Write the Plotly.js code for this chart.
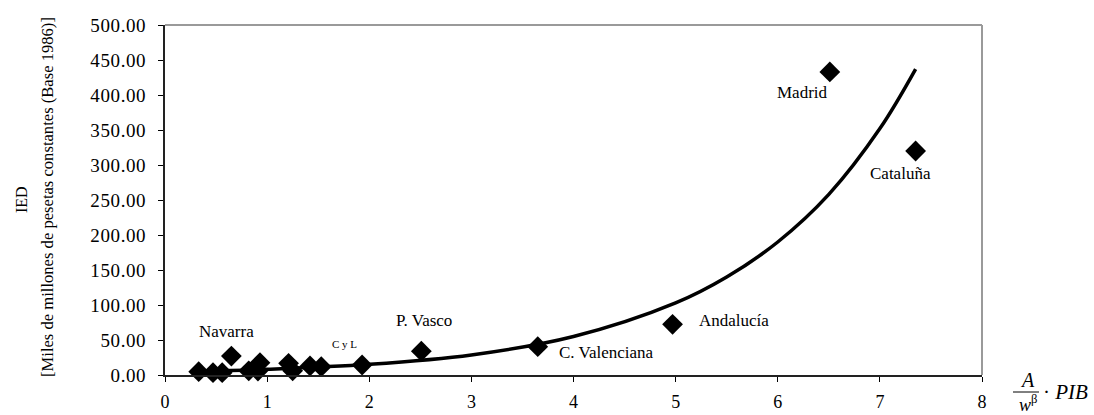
<!DOCTYPE html>
<html>
<head>
<meta charset="utf-8">
<script src="https://cdn.plot.ly/plotly-3.0.1.min.js"></script>
<style>
  .ytick text { letter-spacing: 0.6px; }
</style>
</head>
<body style="margin:0">
<div id="chart"></div>
<script>
// Scatter points (x = A/w^β · PIB, y = IED)
const pointX = [0.33, 0.47, 0.56, 0.65, 0.82, 0.91, 0.93, 1.21, 1.25, 1.42, 1.53, 1.93, 2.51, 3.65, 4.97, 6.51, 7.35];
const pointY = [4.7, 3.3, 3.3, 27, 6, 5.7, 17.6, 16.7, 6, 12.9, 11.9, 14.3, 34, 40.5, 72.4, 433, 320];

// Trend curve
const trendX = [0.33, 1, 2, 3, 4, 5, 5.5, 6, 6.5, 7, 7.35];
const trendY = [5.4, 8.2, 15.3, 28.7, 55, 103, 140, 190, 258, 352, 437];

// Region labels
const labelNames = ["Navarra", "C y L", "P. Vasco", "C. Valenciana", "Andalucía", "Madrid", "Cataluña"];
const labelPointIndex = [3, 11, 12, 13, 14, 15, 16];

// Axis ticks
const yTickVals = [0, 50, 100, 150, 200, 250, 300, 350, 400, 450, 500];
const xTickVals = [0, 1, 2, 3, 4, 5, 6, 7, 8];

const FONT = 'Liberation Serif';

// label offsets (px) relative to their point, and font size
const labelShift = [
  [-5, 25, 17], [-18, 21, 11], [3, 31, 17], [69, -6, 17], [61, 4, 17], [-27, -21, 17], [-15, -22, 17]
];

const traces = [
  {
    x: trendX, y: trendY, type: 'scatter', mode: 'lines',
    line: { color: '#000', width: 3.5, shape: 'spline', smoothing: 1 },
    hoverinfo: 'skip', cliponaxis: false
  },
  {
    x: pointX, y: pointY, type: 'scatter', mode: 'markers',
    marker: { symbol: 'diamond', size: 16, color: '#000' },
    cliponaxis: false
  }
];

const L = 165, R = 112, T = 25, B = 40, W = 1094, H = 415;
const pw = W - L - R, ph = H - T - B;
const px2x = p => (p - L) / pw;
const py2y = p => (H - B - p) / ph;

const annotations = labelNames.map((name, i) => ({
  x: pointX[labelPointIndex[i]], y: pointY[labelPointIndex[i]],
  xref: 'x', yref: 'y', text: name, showarrow: false,
  xanchor: 'center', yanchor: 'middle',
  xshift: labelShift[i][0], yshift: labelShift[i][1],
  font: { family: FONT, size: labelShift[i][2], color: '#000' }
}));

// Y-axis title (two rotated lines)
annotations.push({
  xref: 'paper', yref: 'paper', x: px2x(21), y: py2y(200),
  text: 'IED', showarrow: false, textangle: -90,
  xanchor: 'center', yanchor: 'middle',
  font: { family: FONT, size: 16, color: '#000' }
});
annotations.push({
  xref: 'paper', yref: 'paper', x: px2x(47), y: py2y(197),
  text: '[Miles de millones de pesetas constantes (Base 1986)]', showarrow: false, textangle: -90,
  xanchor: 'center', yanchor: 'middle',
  font: { family: FONT, size: 16.6, color: '#000' }
});
// X-axis title formula: A / w^β · PIB
annotations.push({
  xref: 'paper', yref: 'paper', x: px2x(1027), y: py2y(380),
  text: '<i>A</i>', showarrow: false, xanchor: 'center', yanchor: 'middle',
  font: { family: FONT, size: 20, color: '#000' }
});
annotations.push({
  xref: 'paper', yref: 'paper', x: px2x(1028), y: py2y(403),
  text: '<i>w</i><sup>β</sup>', showarrow: false, xanchor: 'center', yanchor: 'middle',
  font: { family: FONT, size: 18, color: '#000' }
});
annotations.push({
  xref: 'paper', yref: 'paper', x: px2x(1041), y: py2y(392),
  text: '· <i>PIB</i>', showarrow: false, xanchor: 'left', yanchor: 'middle',
  font: { family: FONT, size: 21, color: '#000' }
});

const shapes = [
  { type: 'line', xref: 'paper', yref: 'paper', x0: 0, x1: 1, y0: 1, y1: 1, line: { color: '#9a9a9a', width: 2 } },
  { type: 'line', xref: 'paper', yref: 'paper', x0: 1, x1: 1, y0: 0, y1: 1, line: { color: '#9a9a9a', width: 2 } },
  { type: 'line', xref: 'paper', yref: 'paper', x0: px2x(1013), x1: px2x(1039), y0: py2y(392), y1: py2y(392), line: { color: '#000', width: 1 } }
];

const layout = {
  width: W, height: H,
  margin: { l: L, r: R, t: T, b: B, pad: 0 },
  paper_bgcolor: '#fff', plot_bgcolor: '#fff',
  showlegend: false,
  xaxis: {
    range: [0, 8], tickvals: xTickVals, ticktext: xTickVals.map(String),
    showgrid: false, zeroline: false,
    showline: true, linecolor: '#222', linewidth: 2,
    ticks: 'outside', ticklen: 5, tickcolor: '#000', tickwidth: 1,
    ticklabelstandoff: 4,
    tickfont: { family: FONT, size: 18, color: '#000' }
  },
  yaxis: {
    range: [0, 500], tickvals: yTickVals, ticktext: yTickVals.map(v => v.toFixed(2)),
    showgrid: false, zeroline: false,
    showline: true, linecolor: '#222', linewidth: 2,
    ticks: 'outside', ticklen: 5, tickcolor: '#000', tickwidth: 1,
    ticklabelstandoff: 8,
    tickfont: { family: FONT, size: 19, color: '#000' }
  },
  annotations: annotations,
  shapes: shapes
};

Plotly.newPlot('chart', traces, layout, { displayModeBar: false });
</script>
</body>
</html>
